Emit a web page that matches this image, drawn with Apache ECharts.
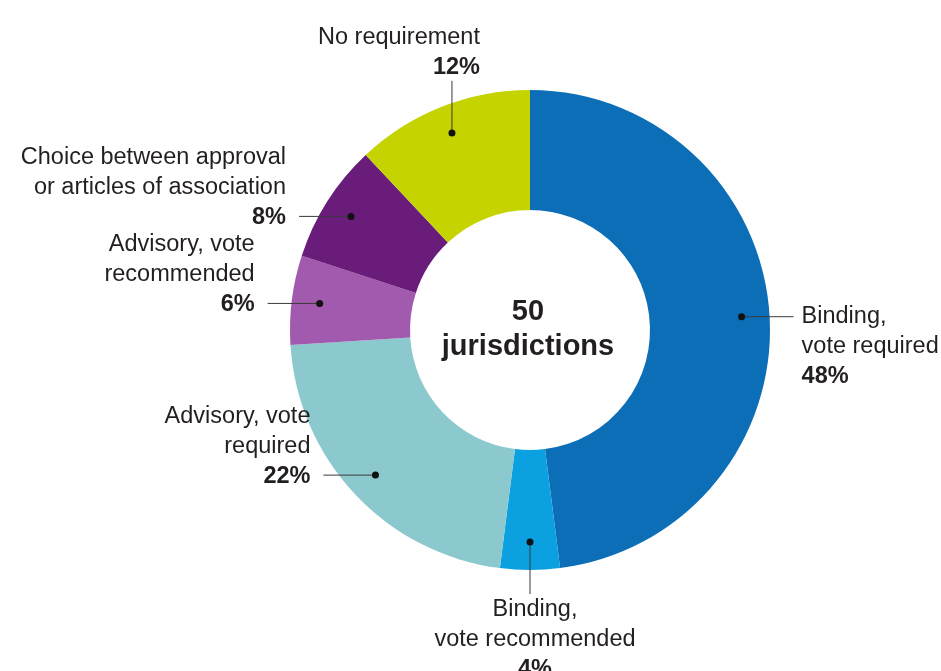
<!DOCTYPE html>
<html>
<head>
<meta charset="utf-8">
<script src="https://cdn.jsdelivr.net/npm/echarts@6/dist/echarts.min.js"></script>
<style>
html,body{margin:0;padding:0;background:#fff;}
#chart{width:941px;height:671px;}
</style>
</head>
<body>
<div id="chart"></div>
<script>
// ---- data ----
var categories = [
  'Binding,\nvote required',
  'Binding,\nvote recommended',
  'Advisory, vote\nrequired',
  'Advisory, vote\nrecommended',
  'Choice between approval\nor articles of association',
  'No requirement'
];
var shares = [48, 4, 22, 6, 8, 12];
var centerLines = ['50', 'jurisdictions'];

// ---- styling / geometry ----
var colors = ['#0b6eb6', '#0ba0e0', '#8cc9cf', '#a15aad', '#6a1c7b', '#c5d400'];
var CX = 530, CY = 330, R_OUT = 240, R_IN = 120;
var DOT_R = 212, LEAD = 52;
var FONT = '"Liberation Sans", Arial, sans-serif';
var TEXT = '#231f20';
var LH = 30;

var total = shares.reduce(function (a, b) { return a + b; }, 0);
var cum = 0;
var anchorData = shares.map(function (v, i) {
  var mid = (cum + v / 2) / total * 100;
  cum += v;
  return [DOT_R, mid, i];
});

function richLabel(name, val) {
  return name.split('\n').map(function (l) { return '{n|' + l + '}'; }).join('\n') +
    '\n{b|' + val + '%}';
}

var chart = echarts.init(document.getElementById('chart'));
chart.setOption({
  animation: false,
  backgroundColor: '#fff',
  polar: { center: [CX, CY], radius: R_OUT },
  angleAxis: { type: 'value', min: 0, max: 100, startAngle: 90, clockwise: true, show: false },
  radiusAxis: { type: 'value', min: 0, max: R_OUT, show: false },
  graphic: [{
    type: 'text',
    x: CX - 2, y: CY - 1,
    z: 100,
    style: {
      text: centerLines.join('\n'),
      font: 'bold 29px ' + FONT,
      fill: TEXT,
      align: 'center',
      verticalAlign: 'middle',
      lineHeight: 35
    }
  }],
  series: [
    {
      type: 'pie',
      z: 1,
      center: [CX, CY],
      radius: [R_IN, R_OUT],
      startAngle: 90,
      clockwise: true,
      label: { show: false },
      labelLine: { show: false },
      silent: true,
      data: categories.map(function (c, i) {
        return { name: c, value: shares[i], itemStyle: { color: colors[i] } };
      })
    },
    {
      type: 'custom',
      coordinateSystem: 'polar',
      z: 10,
      clip: false,
      silent: true,
      data: anchorData,
      renderItem: function (params, api) {
        var idx = api.value(2);
        var angle = api.value(1) / 100 * 360; // clockwise from top
        var p = api.coord([api.value(0), api.value(1)]);
        var dir;
        if (angle >= 45 && angle < 135) dir = 'right';
        else if (angle >= 135 && angle < 225) dir = 'down';
        else if (angle >= 225 && angle < 315) dir = 'left';
        else dir = 'up';
        var e = p.slice();
        if (dir === 'right') e[0] += LEAD;
        if (dir === 'left') e[0] -= LEAD;
        if (dir === 'down') e[1] += LEAD;
        if (dir === 'up') e[1] -= LEAD;
        var half = LH / 2;
        var tx, ty, align, valign;
        if (dir === 'right') { tx = e[0] + 8; ty = e[1] - half; align = 'left'; valign = 'top'; }
        else if (dir === 'left') { tx = e[0] - 13; ty = e[1] + half + 1; align = 'right'; valign = 'bottom'; }
        else if (dir === 'down') { tx = e[0] + 5; ty = e[1] + 1; align = 'center'; valign = 'top'; }
        else { tx = e[0] + 28; ty = e[1] + 2; align = 'right'; valign = 'bottom'; }
        return {
          type: 'group',
          children: [
            { type: 'line', shape: { x1: p[0], y1: p[1], x2: e[0], y2: e[1] },
              style: { stroke: '#3a3a3a', lineWidth: 1 } },
            { type: 'circle', shape: { cx: p[0], cy: p[1], r: 3.5 },
              style: { fill: '#111' } },
            { type: 'text', x: tx, y: ty,
              style: {
                text: richLabel(categories[idx], shares[idx]),
                align: align, verticalAlign: valign,
                fill: TEXT,
                rich: {
                  n: { font: '23.5px ' + FONT, fill: TEXT, lineHeight: LH, align: align },
                  b: { font: 'bold 23.5px ' + FONT, fill: TEXT, lineHeight: LH, align: align }
                }
              } }
          ]
        };
      }
    }
  ]
});
</script>
</body>
</html>
